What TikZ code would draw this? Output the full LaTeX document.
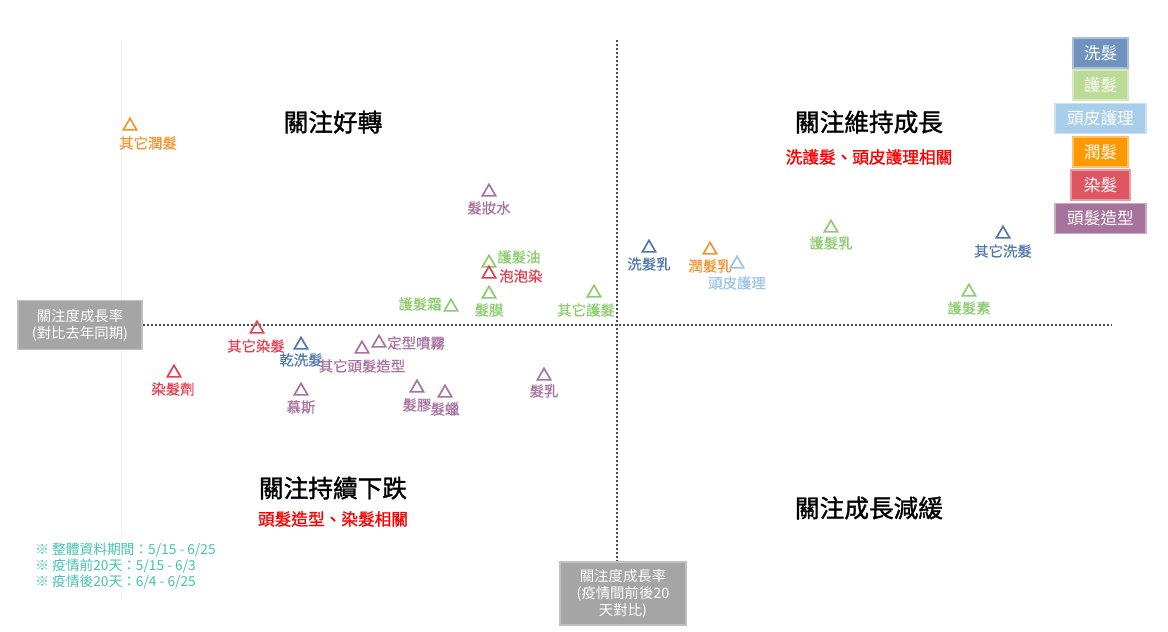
\documentclass[tikz,border=0pt]{standalone}
\usepackage{fontspec}
\setmainfont{Noto Sans CJK TC}
\newfontfamily\lblfont{Noto Sans CJK TC}[FakeBold=0.6]
\newfontfamily\headfont{Noto Sans CJK TC}[FakeBold=1.3]
\usetikzlibrary{shapes.geometric}
\definecolor{cwash}{HTML}{4F77AE}
\definecolor{ccare}{HTML}{8CCB6E}
\definecolor{cscalp}{HTML}{9DC3E6}
\definecolor{ccond}{HTML}{F3922F}
\definecolor{cdye}{HTML}{E3404E}
\definecolor{cstyle}{HTML}{A8729F}
\definecolor{lwash}{HTML}{7092BE}
\definecolor{lcare}{HTML}{BCDB97}
\definecolor{lscalp}{HTML}{A9CEEC}
\definecolor{lcond}{HTML}{FF9900}
\definecolor{ldye}{HTML}{DE5662}
\definecolor{lstyle}{HTML}{A6739D}
\definecolor{cnote}{HTML}{45C1B0}
\definecolor{cbox}{HTML}{A5A5A5}

\tikzset{
  mk/.style={regular polygon,regular polygon sides=3,draw=#1,line width=1.25pt,inner sep=0pt,minimum size=11.5pt},
  lbl/.style={text=#1,font=\lblfont\fontsize{10.8}{12}\selectfont,inner sep=0pt},
  legend/.style={fill=#1,draw=#1!60!white,line width=0.8pt,text=white,font=\fontsize{12.5}{14}\selectfont,minimum height=22.5pt},
  graybox/.style={fill=cbox,draw=cbox!70!white,line width=0.8pt,text=white,align=center,font=\fontsize{10.8}{12.75}\selectfont},
  axis/.style={draw=black!70,line width=1.1pt,dash pattern=on 1.6pt off 1.4pt},
  title/.style={font=\headfont\fontsize{18.5}{20}\selectfont},
  subtitle/.style={text=red,font=\headfont\fontsize{12.5}{14}\selectfont}
}

\begin{document}
\begin{tikzpicture}[x=0.75pt,y=-0.75pt]
\useasboundingbox (0,0) rectangle (1168,632);
\draw[black!5] (121,40) -- (121,600);

% axes
\node[graybox,minimum width=93pt,minimum height=36.75pt] (ybox) at (80,325) {關注度成長率\\(對比去年同期)};
\node[graybox,minimum width=94.5pt,minimum height=47.25pt] (xbox) at (623,593.5) {關注度成長率\\(疫情間前後20\\天對比)};
\coordinate (hend) at (1112,325);
\coordinate (vtop) at (617,40);
\draw[axis] (ybox.east) -- (hend);
\draw[axis] (vtop) -- (vtop |- xbox.north);

% quadrants
\node[title] (q1) at (333,122) {關注好轉};
\node[title] (q2) at (869,122) {關注維持成長};
\node[subtitle] (q2s) at (869,157) {洗護髮、頭皮護理相關};
\node[title] (q3) at (333,488) {關注持續下跌};
\node[subtitle] (q3s) at (333,519) {頭髮造型、染髮相關};
\node[title] (q4) at (869,508) {關注成長減緩};

% legend
\node[legend=lwash,minimum width=41.25pt] (lg1) at (1100.5,53) {洗髮};
\node[legend=lcare,minimum width=41.25pt] (lg2) at (1100.5,85) {護髮};
\node[legend=lscalp,minimum width=68.25pt] (lg3) at (1100.5,118.5) {頭皮護理};
\node[legend=lcond,minimum width=41.25pt] (lg4) at (1100.5,152) {潤髮};
\node[legend=ldye,minimum width=44.25pt] (lg5) at (1100.5,185) {染髮};
\node[legend=lstyle,minimum width=68.25pt] (lg6) at (1100.5,218.5) {頭髮造型};

% notes
\node[text=cnote,align=left,anchor=west,font=\fontsize{10.3}{12}\selectfont,inner sep=0pt] (note) at (35,566)
  {※ 整體資料期間：5/15 - 6/25\\※ 疫情前20天：5/15 - 6/3\\※ 疫情後20天：6/4 - 6/25};

% points, upper left
\node[mk=ccond] (p1) at (130,126) {};
\node[lbl=ccond] (p1l) at (148,143) {其它潤髮};
\node[mk=cstyle] (p2) at (489,192) {};
\node[lbl=cstyle] (p2l) at (489,208) {髮妝水};
\node[mk=ccare] (p3) at (489,263) {};
\node[lbl=ccare,anchor=west] (p3l) at (497,257) {護髮油};
\node[mk=cdye] (p4) at (489,274) {};
\node[lbl=cdye,anchor=west] (p4l) at (499,276) {泡泡染};
\node[mk=ccare] (p5) at (489,294) {};
\node[lbl=ccare] (p5l) at (489,310) {髮膜};
\node[mk=ccare] (p6) at (451,307) {};
\node[lbl=ccare] (p6l) at (420,304) {護髮霜};
\node[mk=ccare] (p7) at (594,293) {};
\node[lbl=ccare] (p7l) at (586,310) {其它護髮};

% points, lower left
\node[mk=cdye] (p8) at (257,329) {};
\node[lbl=cdye] (p8l) at (256,346) {其它染髮};
\node[mk=cwash] (p9) at (301,345) {};
\node[lbl=cwash] (p9l) at (301,360) {乾洗髮};
\node[mk=cstyle] (p10) at (362,349) {};
\node[lbl=cstyle] (p10l) at (362,366) {其它頭髮造型};
\node[mk=cstyle] (p11) at (379,343) {};
\node[lbl=cstyle,anchor=west] (p11l) at (387,343) {定型噴霧};
\node[mk=cdye] (p12) at (174,373) {};
\node[lbl=cdye] (p12l) at (173,389) {染髮劑};
\node[mk=cstyle] (p13) at (301,391) {};
\node[lbl=cstyle] (p13l) at (301,407) {慕斯};
\node[mk=cstyle] (p14) at (417,388) {};
\node[lbl=cstyle] (p14l) at (417,405) {髮膠};
\node[mk=cstyle] (p15) at (445,393) {};
\node[lbl=cstyle] (p15l) at (445,409) {髮蠟};
\node[mk=cstyle] (p16) at (544,376) {};
\node[lbl=cstyle] (p16l) at (544,391) {髮乳};

% points, upper right
\node[mk=cwash] (p17) at (649,248) {};
\node[lbl=cwash] (p17l) at (649,264) {洗髮乳};
\node[mk=ccond] (p18) at (710,250) {};
\node[lbl=ccond] (p18l) at (710,266) {潤髮乳};
\node[mk=cscalp] (p19) at (737,264) {};
\node[lbl=cscalp] (p19l) at (737,283) {頭皮護理};
\node[mk=ccare] (p20) at (831,228) {};
\node[lbl=ccare] (p20l) at (831,243) {護髮乳};
\node[mk=cwash] (p21) at (1003,234) {};
\node[lbl=cwash] (p21l) at (1003,251) {其它洗髮};
\node[mk=ccare] (p22) at (969,292) {};
\node[lbl=ccare] (p22l) at (969,308) {護髮素};
\end{tikzpicture}
\end{document}
